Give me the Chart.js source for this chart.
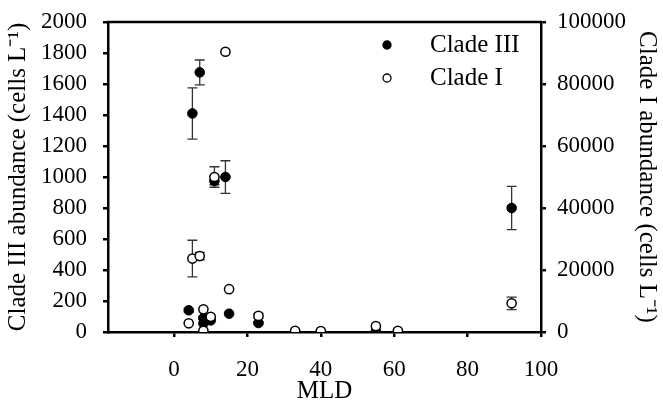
<!DOCTYPE html>
<html>
<head>
<meta charset="utf-8">
<script src="https://cdn.jsdelivr.net/npm/chart.js@4"></script>
<style>
  body { margin: 0; background: #fff; }
  #wrap { width: 663px; height: 402px; }
</style>
</head>
<body>
<div id="wrap"><canvas id="mldChart"></canvas></div>
<script>
// data
const cladeIIIMld = [5, 7, 11, 14, 92, 4, 8, 8, 10, 15, 23, 55];
const cladeIII    = [1410, 1675, 975, 1000, 800, 140, 90, 55, 75, 118, 58, 5];
const cladeIIIErr = [165, 80, 25, 105, 140, 12, 10, 0, 0, 0, 8, 0];

const cladeIMld = [14, 11, 5, 7, 4, 8, 10, 8, 15, 23, 33, 40, 55, 61, 92];
const cladeI    = [90400, 50000, 23700, 24500, 2800, 7300, 4900, 400, 13800, 5200, 400, 300, 1900, 400, 9250];
const cladeIErr = [0, 3300, 5900, 1200, 0, 0, 0, 0, 0, 800, 0, 0, 0, 0, 2000];

const xTicks = [0, 20, 40, 60, 80, 100];

const serif = "'Liberation Serif', 'Times New Roman', serif";
const fontSize = 23;
const titleSize = 25;

function toPoints(xs, ys, errs) {
    return xs.map((x, i) => ({ x: x, y: ys[i], err: errs[i] }));
}

// error bars, drawn with the chart's own scales
const errorBars = {
    id: "errorBars",
    beforeDatasetsDraw(chart) {
        const ctx = chart.ctx;
        const xs = chart.scales.x;
        ctx.save();
        ctx.strokeStyle = "#333";
        ctx.lineWidth = 1.3;
        chart.data.datasets.forEach((ds) => {
            const ys = chart.scales[ds.yAxisID];
            ds.data.forEach((p) => {
                if (!p.err) return;
                const px = xs.getPixelForValue(p.x);
                const top = ys.getPixelForValue(p.y + p.err);
                const bot = ys.getPixelForValue(p.y - p.err);
                ctx.beginPath();
                ctx.moveTo(px, top); ctx.lineTo(px, bot);
                ctx.moveTo(px - 5, top); ctx.lineTo(px + 5, top);
                ctx.moveTo(px - 5, bot); ctx.lineTo(px + 5, bot);
                ctx.stroke();
            });
        });
        ctx.restore();
    },
};

// top frame line and the legend inside the plot
const frameAndLegend = {
    id: "frameAndLegend",
    afterDraw(chart) {
        const ctx = chart.ctx;
        const a = chart.chartArea;
        ctx.save();
        ctx.strokeStyle = "#000";
        ctx.lineWidth = 2.5;
        ctx.beginPath();
        ctx.moveTo(a.left - 1, a.top);
        ctx.lineTo(a.right + 1, a.top);
        ctx.stroke();

        ctx.font = titleSize + "px " + serif;
        ctx.fillStyle = "#000";
        ctx.textBaseline = "middle";
        chart.data.datasets.forEach((ds, i) => {
            const y = a.top + 23 + i * 33;
            const mx = a.right - 154;
            ctx.beginPath();
            ctx.arc(mx, y, 4, 0, Math.PI * 2);
            ctx.fillStyle = ds.backgroundColor;
            ctx.fill();
            ctx.lineWidth = 1.3;
            ctx.strokeStyle = "#000";
            ctx.stroke();
            ctx.fillStyle = "#000";
            ctx.fillText(ds.label, a.right - 111, y);
        });
        ctx.restore();
    },
};

const axisGrid = {
    display: true,
    drawOnChartArea: false,
    drawTicks: true,
    tickLength: 5,
    color: "#000",
    lineWidth: 2.5,
};
const axisBorder = { display: true, color: "#000", width: 2.5 };

function fixVertical(width) {
    return (s) => {
        s.width = width;
        s.paddingTop = 0;
        s.paddingBottom = 0;
    };
}

new Chart(document.getElementById("mldChart"), {
    type: "scatter",
    data: {
        datasets: [
            {
                label: "Clade III",
                data: toPoints(cladeIIIMld, cladeIII, cladeIIIErr),
                yAxisID: "y",
                backgroundColor: "#000",
                borderColor: "#000",
                borderWidth: 1,
                pointRadius: 4.8,
                order: 1,
            },
            {
                label: "Clade I",
                data: toPoints(cladeIMld, cladeI, cladeIErr),
                yAxisID: "y2",
                backgroundColor: "#fff",
                borderColor: "#000",
                borderWidth: 1.5,
                pointRadius: 4.6,
                order: 0,
            },
        ],
    },
    options: {
        responsive: true,
        maintainAspectRatio: false,
        animation: false,
        layout: { padding: { top: 22, left: 0, right: 0, bottom: 0 } },
        plugins: {
            legend: { display: false },
            tooltip: { enabled: false },
        },
        scales: {
            x: {
                type: "linear",
                min: -18,
                max: 100,
                afterBuildTicks: (s) => { s.ticks = xTicks.map((v) => ({ value: v })); },
                afterFit: (s) => { s.height = 70; },
                grid: axisGrid,
                border: axisBorder,
                ticks: { color: "#000", padding: 19, font: { family: serif, size: fontSize } },
                title: {
                    display: true,
                    text: "MLD",
                    color: "#000",
                    padding: { top: 0, bottom: -2 },
                    font: { family: serif, size: titleSize, lineHeight: 1 },
                },
            },
            y: {
                position: "left",
                min: 0,
                max: 2000,
                afterFit: fixVertical(108),
                grid: axisGrid,
                border: axisBorder,
                ticks: {
                    stepSize: 200,
                    autoSkip: false,
                    color: "#000",
                    padding: 16,
                    font: { family: serif, size: fontSize },
                    callback: (v) => String(v),
                },
                title: {
                    display: true,
                    text: "Clade III abundance (cells L⁻¹)",
                    color: "#000",
                    padding: { top: 4, bottom: 0 },
                    font: { family: serif, size: titleSize, lineHeight: 1.15 },
                },
            },
            y2: {
                position: "right",
                min: 0,
                max: 100000,
                afterFit: fixVertical(122),
                grid: axisGrid,
                border: axisBorder,
                ticks: {
                    stepSize: 20000,
                    autoSkip: false,
                    color: "#000",
                    padding: 11,
                    font: { family: serif, size: fontSize },
                    callback: (v) => String(v),
                },
                title: {
                    display: true,
                    text: "Clade I abundance (cells L⁻¹)",
                    color: "#000",
                    padding: { top: 2, bottom: 0 },
                    font: { family: serif, size: titleSize, lineHeight: 1.15 },
                },
            },
        },
    },
    plugins: [errorBars, frameAndLegend],
});
</script>
</body>
</html>
